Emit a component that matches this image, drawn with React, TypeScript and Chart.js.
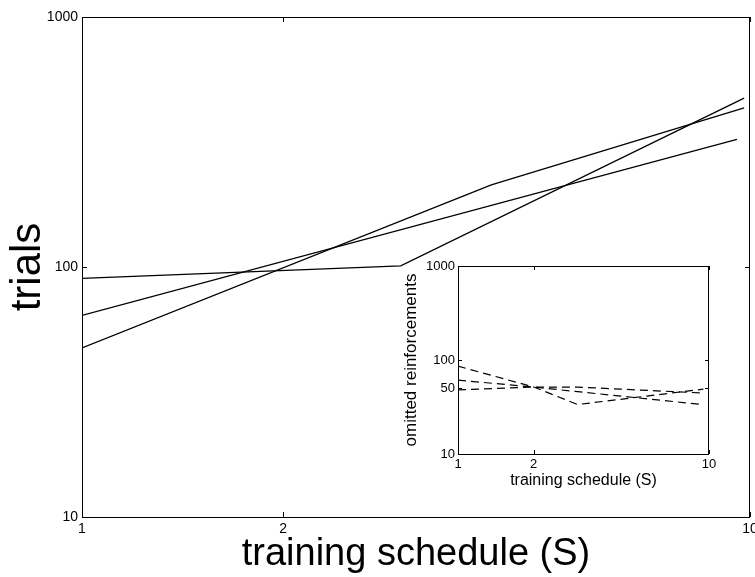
import React, { useEffect, useRef } from "react";
import { Chart, registerables } from "chart.js";
Chart.register(...registerables);

const FONT = "'Liberation Sans', Arial, Helvetica, sans-serif";

// ---- main chart data ----
const mainXTicks = [1, 2, 10];
const mainYTicks = [10, 100, 1000];
const lineAx = [1, 3, 9.8];
const lineAy = [90, 101, 474];
const lineBx = [1, 4.1, 9.8];
const lineBy = [47.5, 213, 433];
const lineCx = [1, 9.56];
const lineCy = [64, 324];

// ---- inset data ----
const insetXTicks = [1, 2, 10];
const insetYTicks = [10, 50, 100, 1000];
const dashAx = [1, 2, 3, 9.5];
const dashAy = [86, 51.6, 33.6, 49];
const dashBx = [1, 2, 3, 9.5];
const dashBy = [61, 51.6, 46, 33.5];
const dashCx = [1, 2, 3, 9.5];
const dashCy = [48, 51.6, 51.5, 44.5];

const toPoints = (xs: number[], ys: number[]) => xs.map((x, i) => ({ x, y: ys[i] }));

const frameTicks = (len: number) => ({
  id: "frameTicks",
  afterDraw(chart: any) {
    const { ctx, chartArea: a, scales } = chart;
    ctx.save();
    ctx.strokeStyle = "#000";
    ctx.lineWidth = 1;
    ctx.strokeRect(a.left + 0.5, a.top + 0.5, a.right - a.left - 1, a.bottom - a.top);
    ctx.beginPath();
    for (const t of scales.x.ticks) {
      const px = Math.round(scales.x.getPixelForValue(t.value)) + 0.5;
      ctx.moveTo(px, a.bottom);
      ctx.lineTo(px, a.bottom - len);
      ctx.moveTo(px, a.top);
      ctx.lineTo(px, a.top + len);
    }
    for (const t of scales.y.ticks) {
      const py = Math.round(scales.y.getPixelForValue(t.value)) + 0.5;
      ctx.moveTo(a.left, py);
      ctx.lineTo(a.left + len, py);
      ctx.moveTo(a.right, py);
      ctx.lineTo(a.right - len, py);
    }
    ctx.stroke();
    ctx.restore();
  },
});

function makeScales(o: any) {
  return {
    x: {
      type: "logarithmic",
      min: o.xmin,
      max: o.xmax,
      grid: { display: false, drawTicks: false },
      border: { display: false },
      ticks: {
        font: { family: FONT, size: o.tickSize },
        color: "#000",
        padding: o.xPad,
        maxRotation: 0,
        autoSkip: false,
        callback: (v: any) => String(v),
      },
      afterBuildTicks: (s: any) => {
        s.ticks = o.xTicks.map((v: number) => ({ value: v }));
      },
      afterFit: (s: any) => {
        s.height = o.xHeight;
        s.paddingLeft = 0;
        s.paddingRight = 0;
      },
      title: {
        display: true,
        text: "training schedule (S)",
        font: { family: FONT, size: o.xTitleSize },
        color: "#000",
        padding: { top: 0, bottom: o.xTitlePad },
      },
    },
    y: {
      type: "logarithmic",
      min: o.ymin,
      max: o.ymax,
      grid: { display: false, drawTicks: false },
      border: { display: false },
      ticks: {
        font: { family: FONT, size: o.tickSize },
        color: "#000",
        padding: o.yPad,
        autoSkip: false,
        callback: (v: any) => String(v),
      },
      afterBuildTicks: (s: any) => {
        s.ticks = o.yTicks.map((v: number) => ({ value: v }));
      },
      afterFit: (s: any) => {
        s.width = o.yWidth;
        s.paddingTop = 0;
        s.paddingBottom = 0;
      },
      title: {
        display: true,
        text: o.yTitle,
        font: { family: FONT, size: o.yTitleSize },
        color: "#000",
        padding: { top: o.yTitlePad, bottom: 0 },
      },
    },
  };
}

export default function App() {
  const mainRef = useRef<HTMLCanvasElement>(null);
  const insetRef = useRef<HTMLCanvasElement>(null);

  useEffect(() => {
    document.body.style.margin = "0";
    const solid = (xs: number[], ys: number[]) => ({
      data: toPoints(xs, ys),
      showLine: true,
      borderColor: "#000",
      borderWidth: 1.3,
      pointRadius: 0,
      fill: false,
    });
    const dashed = (xs: number[], ys: number[]) => ({
      ...solid(xs, ys),
      borderWidth: 1.2,
      borderDash: [8, 5],
    });

    const main = new Chart(mainRef.current!, {
      type: "scatter",
      data: {
        datasets: [solid(lineAx, lineAy), solid(lineBx, lineBy), solid(lineCx, lineCy)],
      } as any,
      options: {
        animation: false,
        responsive: false,
        maintainAspectRatio: false,
        layout: { padding: { top: 17, right: 5, left: 0, bottom: 0 } },
        plugins: { legend: { display: false }, tooltip: { enabled: false } },
        scales: makeScales({
          xmin: 1, xmax: 10, ymin: 10, ymax: 1000,
          xTicks: mainXTicks, yTicks: mainYTicks,
          tickSize: 14, xPad: 4, yPad: 4,
          xHeight: 60, yWidth: 82,
          xTitleSize: 38, xTitlePad: 0,
          yTitle: "trials", yTitleSize: 42, yTitlePad: 3,
        }),
      } as any,
      plugins: [frameTicks(5)],
    });

    const inset = new Chart(insetRef.current!, {
      type: "scatter",
      data: {
        datasets: [dashed(dashAx, dashAy), dashed(dashBx, dashBy), dashed(dashCx, dashCy)],
      } as any,
      options: {
        animation: false,
        responsive: false,
        maintainAspectRatio: false,
        layout: { padding: { top: 11, right: 26, left: 0, bottom: 0 } },
        plugins: { legend: { display: false }, tooltip: { enabled: false } },
        scales: makeScales({
          xmin: 1, xmax: 10, ymin: 10, ymax: 1000,
          xTicks: insetXTicks, yTicks: insetYTicks,
          tickSize: 13, xPad: 3, yPad: 3,
          xHeight: 41, yWidth: 63,
          xTitleSize: 16, xTitlePad: 5,
          yTitle: "omitted reinforcements", yTitleSize: 17, yTitlePad: 6,
        }),
      } as any,
      plugins: [frameTicks(4)],
    });

    return () => {
      main.destroy();
      inset.destroy();
    };
  }, []);

  return (
    <div style={{ position: "relative", width: 755, height: 577, background: "#fff", overflow: "hidden" }}>
      <canvas ref={mainRef} width={755} height={577} style={{ position: "absolute", left: 0, top: 0, display: "block" }} />
      <canvas ref={insetRef} width={340} height={240} style={{ position: "absolute", left: 395, top: 255, display: "block" }} />
    </div>
  );
}
